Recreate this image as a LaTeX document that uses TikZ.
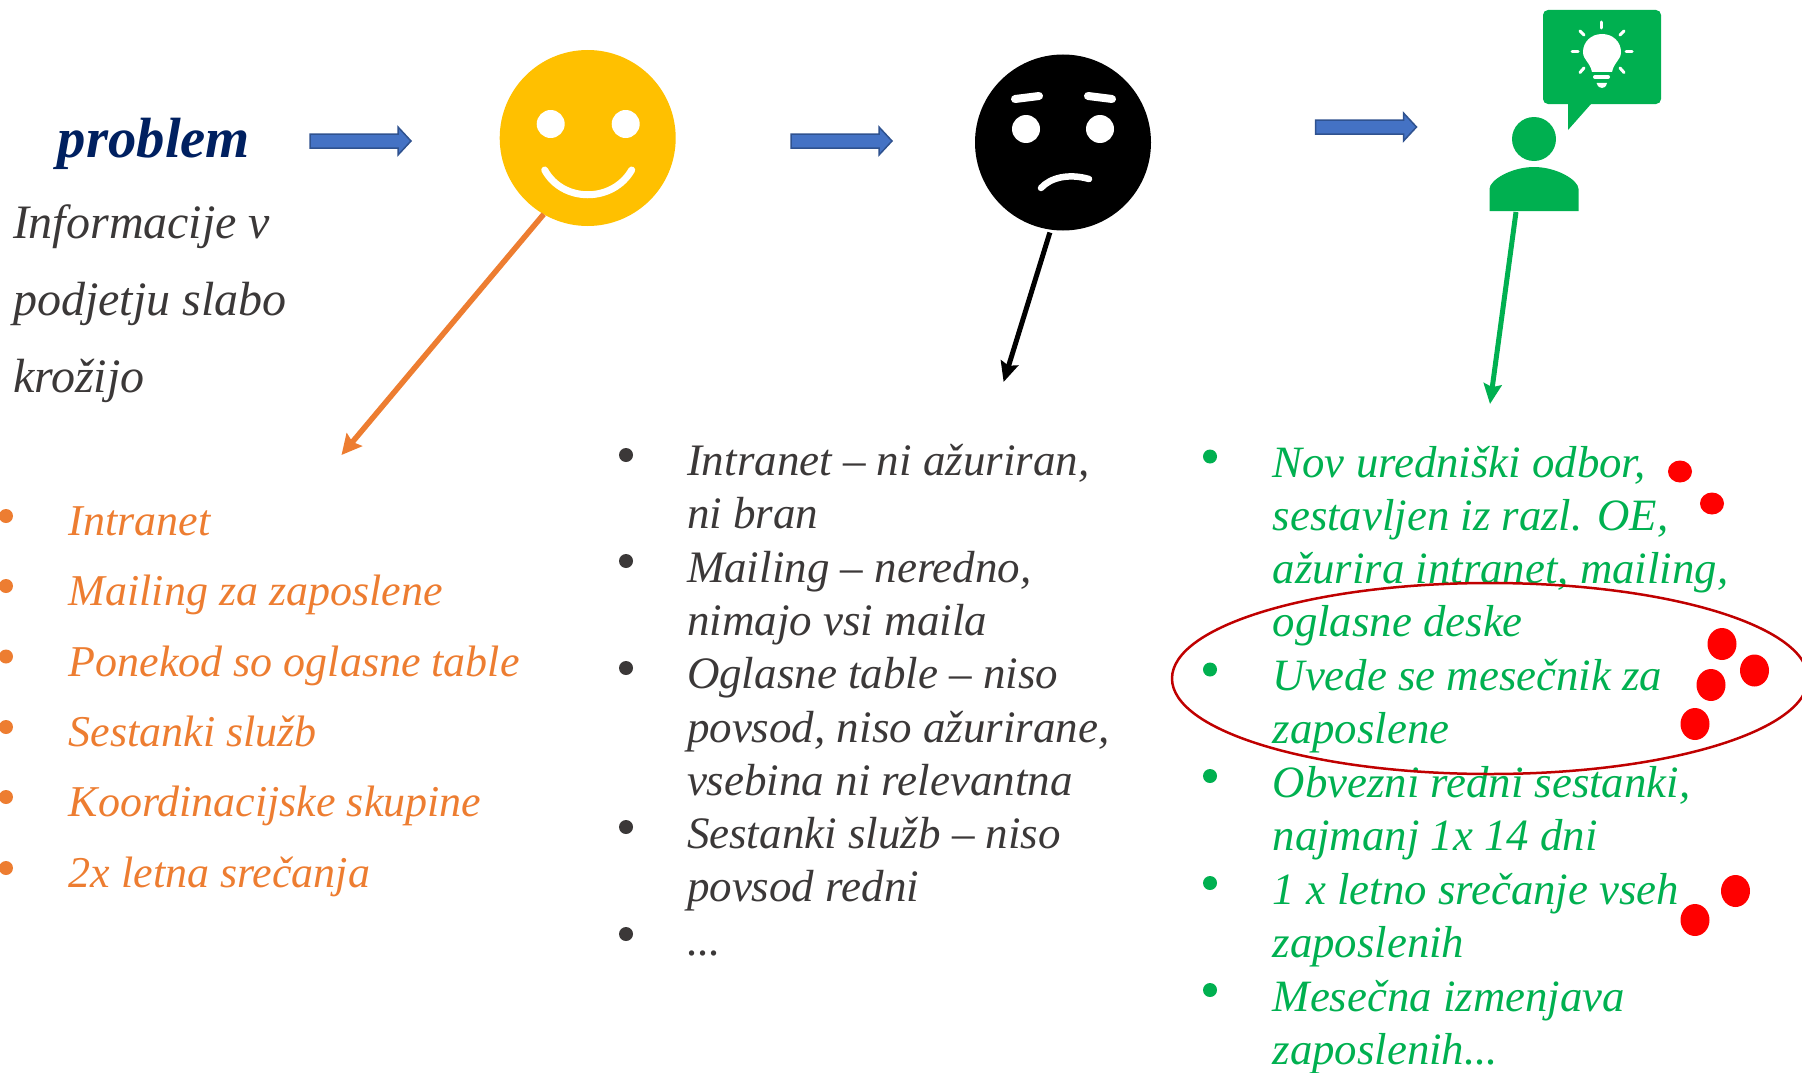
\documentclass[tikz,border=0pt]{standalone}
\usepackage{fontspec}
\setmainfont{Liberation Serif}
\usetikzlibrary{arrows.meta,shapes.geometric}
\definecolor{txtgray}{HTML}{3B3838}
\definecolor{navy}{HTML}{002060}
\definecolor{orng}{HTML}{ED7D31}
\definecolor{grn}{HTML}{00B050}
\definecolor{yel}{HTML}{FFC000}
\definecolor{blufill}{HTML}{4472C4}
\definecolor{bluline}{HTML}{2F528F}
\definecolor{darkred}{HTML}{C00000}
\definecolor{rdot}{HTML}{FF0000}
\tikzset{
  face/.style={circle,minimum size=176pt,inner sep=0pt,outer sep=0pt},
  eye/.style={circle,fill=white,minimum size=28pt,inner sep=0pt},
  whitestroke/.style={draw=white,line cap=round,line width=#1},
  blockarrow/.style={fill=blufill,draw=bluline,line width=1.5pt,line join=miter},
  ptr/.style={line width=#1},
  listtext/.style={anchor=north west,inner sep=0pt,outer sep=0pt,align=left},
  greentext/.style={listtext,text=grn,font=\itshape\fontsize{44.8}{53.3}\selectfont},
  graytext/.style={listtext,text=txtgray,font=\itshape\fontsize{45}{53.3}\selectfont},
  desctext/.style={listtext,text=txtgray,font=\itshape\fontsize{48}{77}\selectfont},
  orangetext/.style={anchor=base west,inner sep=0pt,text=orng,font=\itshape\fontsize{44}{54}\selectfont},
  bul/.style={circle,fill=#1,minimum size=14pt,inner sep=0pt},
  reddot/.style={ellipse,fill=rdot,inner sep=0pt},
  smalldot/.style={reddot,minimum width=24pt,minimum height=22pt},
  bigdot/.style={reddot,minimum width=29pt,minimum height=32pt},
}
\newcommand{\blockarrowat}[2]{%
  \draw[blockarrow,shift={(#1,#2)}] (0,-7) -- (88,-7) -- (88,-14) -- (101,0) -- (88,14) -- (88,7) -- (0,7) -- cycle;}
\begin{document}
\begin{tikzpicture}[x=1pt,y=-1pt]
\useasboundingbox (0,0) rectangle (1802,1073);
% title and description
\node[anchor=base,inner sep=0pt,text=navy,font=\bfseries\itshape\fontsize{56.7}{66}\selectfont] (title) at (154,157) {problem};
\node[desctext] (desc) at (13,184.1) {\strut Informacije v\\podjetju slabo\\krožijo};
% block arrows
\blockarrowat{310}{141}
\blockarrowat{791}{141}
\blockarrowat{1315.5}{127}
% smile
\node[face,fill=yel] (smile) at (587.7,138) {};
\node[eye] (se1) at (550.7,124) {};
\node[eye] (se2) at (625.7,124) {};
\draw[whitestroke=7pt] (544.7,170) .. controls (562.7,203) and (612.7,203) .. (631.7,170);
% sad
\node[face,fill=black] (sad) at (1063,142.5) {};
\node[eye] (de1) at (1026,129) {};
\node[eye] (de2) at (1100,129) {};
\draw[whitestroke=8pt] (1015,99) -- (1039,96);
\draw[whitestroke=8pt] (1088,96) -- (1112,99);
\draw[whitestroke=6.5pt] (1041,188) .. controls (1050,178) and (1068,173) .. (1089,179);
% person with bulb
\node[circle,fill=grn,minimum size=44pt,inner sep=0pt] (head) at (1534,139) {};
\fill[grn] (1489.5,211) -- (1489.5,189) .. controls (1489.5,180) and (1511.5,167) .. (1534,167) .. controls (1556.5,167) and (1578.5,180) .. (1578.5,189) -- (1578.5,211) -- cycle;
\coordinate (foot) at (1516,212);
\node[fill=grn,rounded corners=5pt,minimum width=118pt,minimum height=94pt,inner sep=0pt] (bubble) at (1602,57) {};
\fill[grn] (1568,100) -- (1568,130) -- (1591,104) -- (1591,100) -- cycle;
\begin{scope}[shift={(-4,0)}]
\fill[white] (1596,72) -- (1616,72) .. controls (1618,62) and (1625,60) .. (1625,52) .. controls (1625,42) and (1617,34) .. (1606,34) .. controls (1595,34) and (1587,42) .. (1587,52) .. controls (1587,60) and (1594,62) .. (1596,72) -- cycle;
\draw[whitestroke=4pt] (1599,77) -- (1612,77);
\fill[white] (1600.5,83) -- (1611,83) .. controls (1610,87) and (1608,88) .. (1606,88) .. controls (1604,88) and (1602,87) .. (1600.5,83) -- cycle;
\draw[whitestroke=3pt] (1605.6,22) -- (1605.6,28);
\draw[whitestroke=3pt] (1576,52) -- (1582,52);
\draw[whitestroke=3pt] (1630,52) -- (1636,52);
\draw[whitestroke=3pt] (1584,31) -- (1588,35);
\draw[whitestroke=3pt] (1628,31) -- (1624,35);
\draw[whitestroke=3pt] (1584,72.5) -- (1588,68);
\draw[whitestroke=3pt] (1628,72.5) -- (1624,68);
\end{scope}
% connectors
\coordinate (oe) at (341.5,455);
\coordinate (be) at (1003.6,382);
\coordinate (ge) at (1490,404);
\draw[ptr=5.5pt,draw=orng,-{Stealth[length=20pt,width=20pt,inset=3pt]}] (smile.240.5) -- (oe);
\draw[ptr=5pt,draw=black,shorten <=3pt,-{Stealth[length=20pt,width=18pt,inset=3pt]}] (sad.262) -- (be);
\draw[ptr=5pt,draw=grn,-{Stealth[length=20pt,width=18pt,inset=3pt]}] (foot) -- (ge);
% orange list
\foreach \n/\y/\t in {1/535.5/Intranet,2/605.5/Mailing za zaposlene,3/676/Ponekod so oglasne table,4/746.5/Sestanki služb,5/816.5/Koordinacijske skupine,6/887.5/2x letna srečanja}{
  \node[orangetext] (o\n) at (68.5,\y) {\t};
  \node[bul=orng] (ob\n) at (6,\y-19.5) {};
}
% middle list
\node[bul=txtgray] (mb1) at (626,455) {};
\node[graytext] (m1) at (687,438.2) {\strut Intranet – ni ažuriran,\\ni bran};
\node[bul=txtgray] (mb2) at (626,561) {};
\node[graytext] (m2) at (687,544.7) {\strut Mailing – neredno,\\nimajo vsi maila};
\node[bul=txtgray] (mb3) at (626,668) {};
\node[graytext] (m3) at (687,651.6) {\strut Oglasne table – niso\\povsod, niso ažurirane,\\vsebina ni relevantna};
\node[bul=txtgray] (mb4) at (626,827) {};
\node[graytext] (m4) at (687,811.2) {\strut Sestanki služb – niso\\povsod redni};
\node[bul=txtgray] (mb5) at (626,934) {};
\node[graytext] (m5) at (687,918.2) {\strut ...};
% green list
\node[bul=grn] (gb1) at (1210,456.5) {};
\node[greentext] (g1) at (1272.7,439.7) {\strut Nov uredniški odbor,\\sestavljen iz razl. OE,\\ažurira intranet, mailing,\\oglasne deske};
\node[bul=grn] (gb2) at (1210,669.5) {};
\node[greentext] (g2) at (1272.7,653.2) {\strut Uvede se mesečnik za\\zaposlene};
\node[bul=grn] (gb3) at (1210,776) {};
\node[greentext] (g3) at (1272.7,759.7) {\strut Obvezni redni sestanki,\\najmanj 1x 14 dni};
\node[bul=grn] (gb4) at (1210,883) {};
\node[greentext] (g4) at (1272.7,867.3) {\strut 1 x letno srečanje vseh\\zaposlenih};
\node[bul=grn] (gb5) at (1210,990) {};
\node[greentext] (g5) at (1272.7,973.7) {\strut Mesečna izmenjava\\zaposlenih...};
% red ring
\node[ellipse,draw=darkred,line width=2.5pt,minimum width=636pt,minimum height=191pt,inner sep=0pt] (ring) at (1490,678.5) {};
% red dots
\node[smalldot] (d1) at (1680,471.5) {};
\node[smalldot] (d2) at (1712,503.5) {};
\node[bigdot] (d3) at (1722,644) {};
\node[bigdot] (d4) at (1754.5,670.5) {};
\node[bigdot] (d5) at (1711,685) {};
\node[bigdot] (d6) at (1695,724) {};
\node[bigdot] (d7) at (1735.5,891) {};
\node[bigdot] (d8) at (1695,920) {};
\end{tikzpicture}
\end{document}
